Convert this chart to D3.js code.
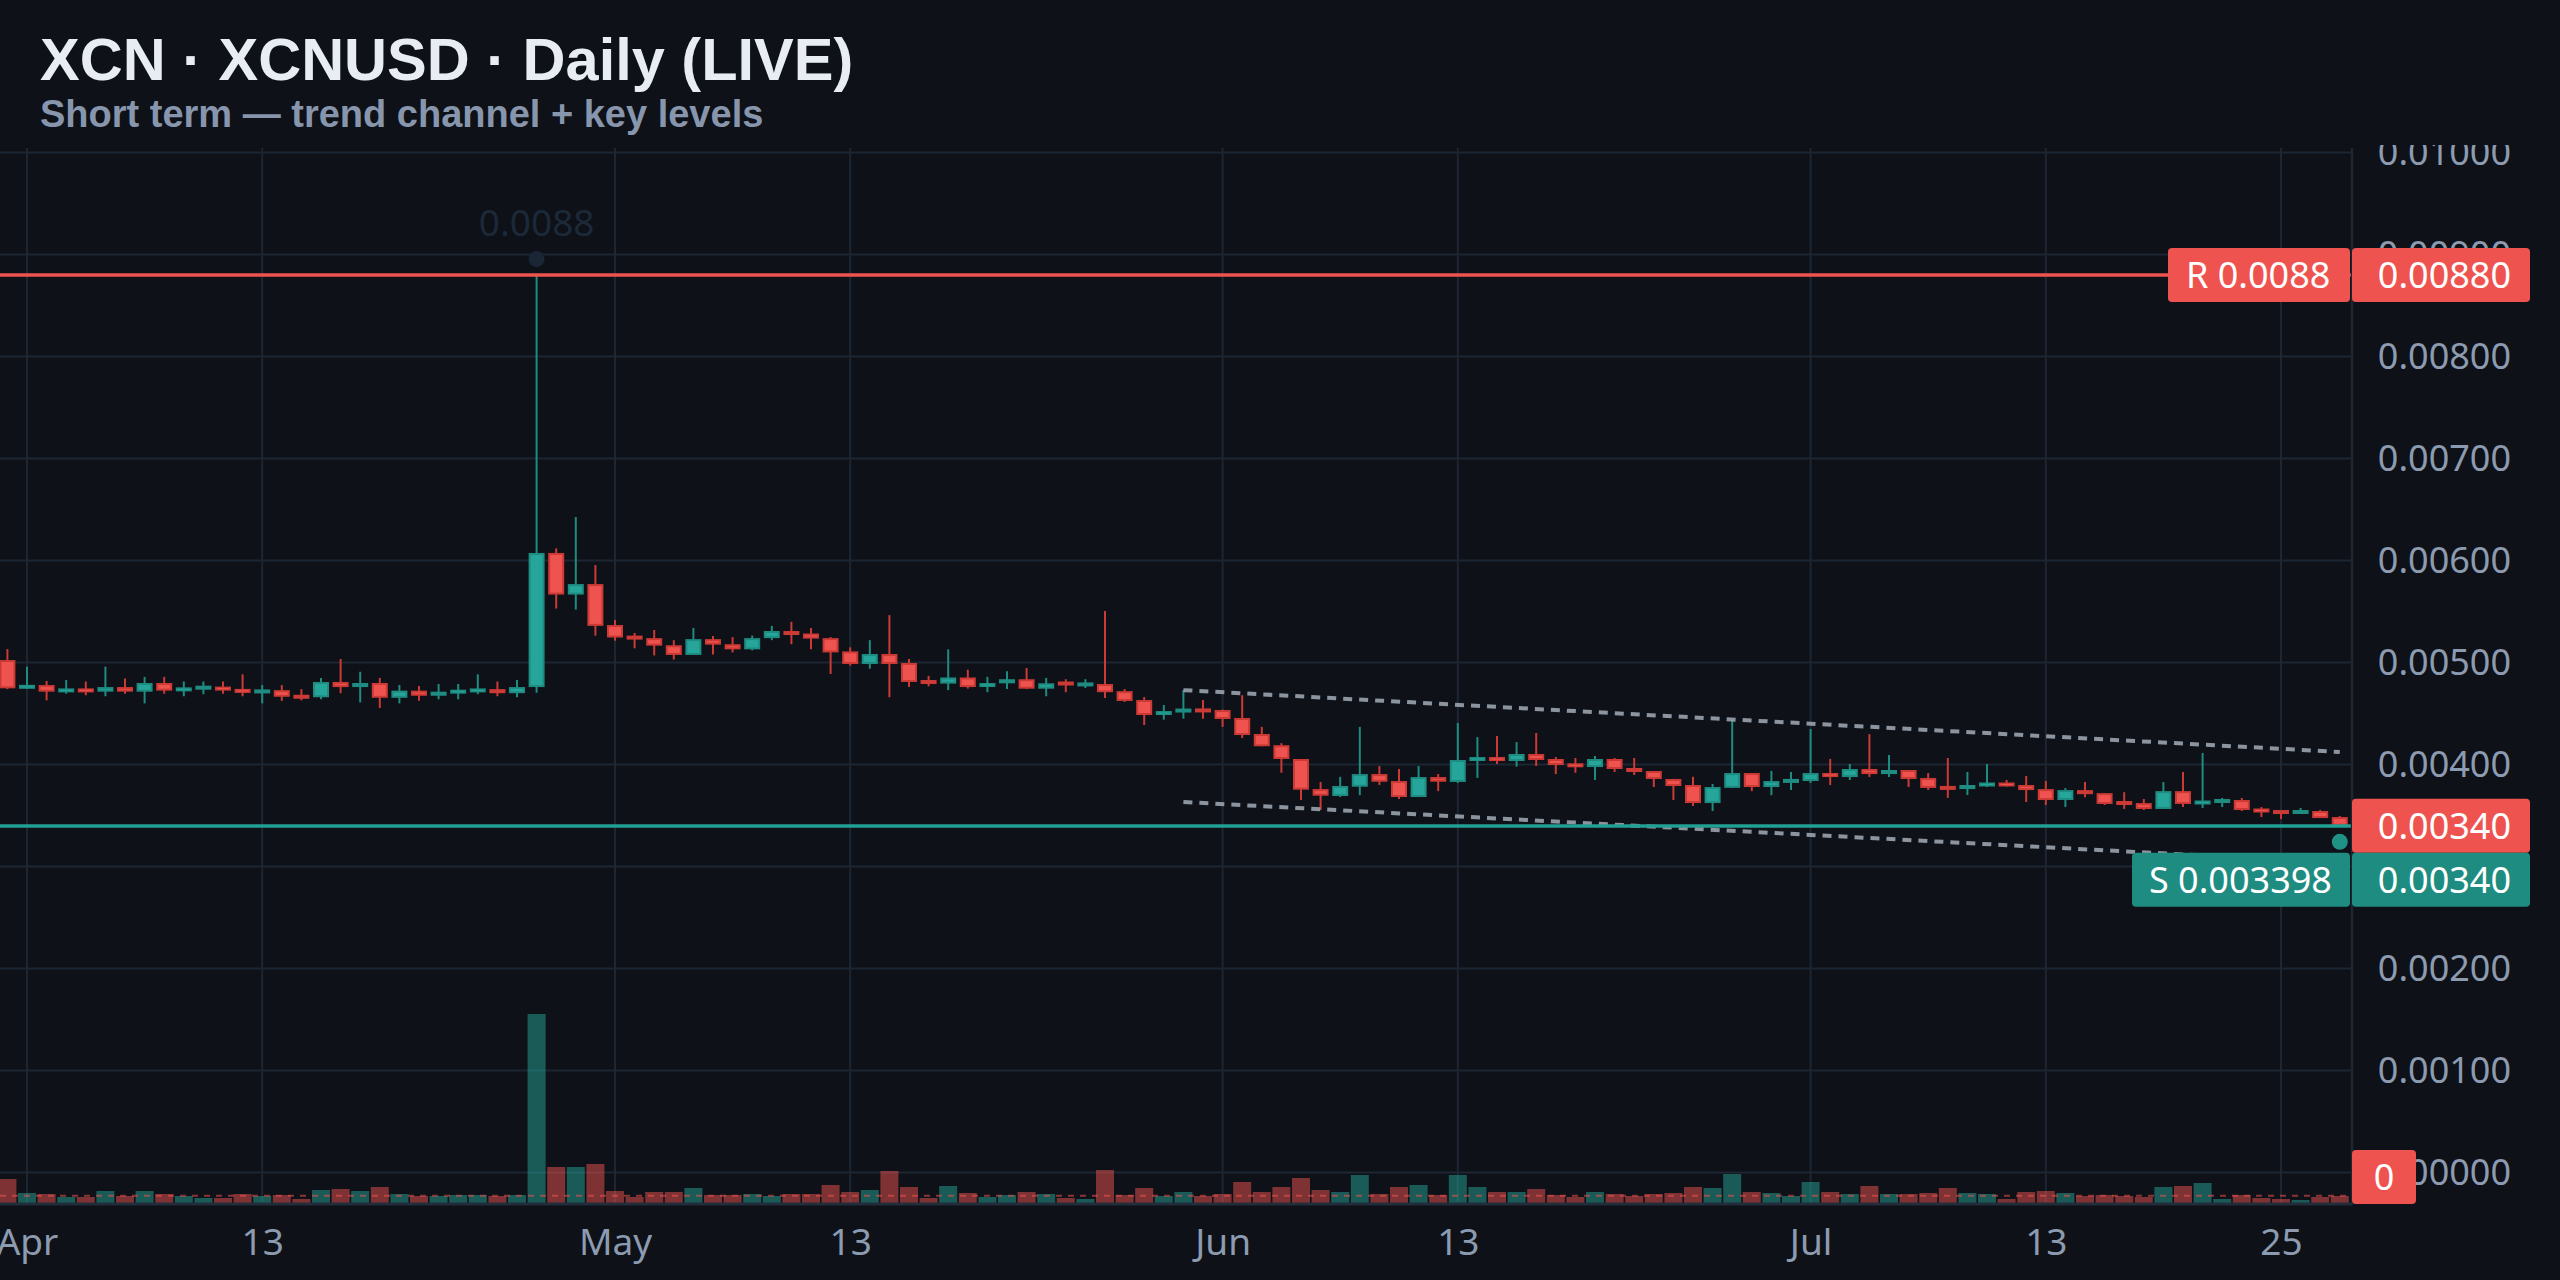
<!DOCTYPE html>
<html><head><meta charset="utf-8">
<script src="https://cdn.jsdelivr.net/npm/d3@7"></script>
<style>html,body{margin:0;padding:0;background:#0e1117;overflow:hidden}svg{display:block}</style>
</head><body><svg id="c" width="2560" height="1280"></svg>
<script>
// ---------------- DATA ----------------
const dates = ["2025-03-31",
"2025-04-01","2025-04-02","2025-04-03","2025-04-04","2025-04-05","2025-04-06","2025-04-07","2025-04-08","2025-04-09","2025-04-10",
"2025-04-11","2025-04-12","2025-04-13","2025-04-14","2025-04-15","2025-04-16","2025-04-17","2025-04-18","2025-04-19","2025-04-20",
"2025-04-21","2025-04-22","2025-04-23","2025-04-24","2025-04-25","2025-04-26","2025-04-27","2025-04-28","2025-04-29","2025-04-30",
"2025-05-01","2025-05-02","2025-05-03","2025-05-04","2025-05-05","2025-05-06","2025-05-07","2025-05-08","2025-05-09","2025-05-10",
"2025-05-11","2025-05-12","2025-05-13","2025-05-14","2025-05-15","2025-05-16","2025-05-17","2025-05-18","2025-05-19","2025-05-20",
"2025-05-21","2025-05-22","2025-05-23","2025-05-24","2025-05-25","2025-05-26","2025-05-27","2025-05-28","2025-05-29","2025-05-30","2025-05-31",
"2025-06-01","2025-06-02","2025-06-03","2025-06-04","2025-06-05","2025-06-06","2025-06-07","2025-06-08","2025-06-09","2025-06-10",
"2025-06-11","2025-06-12","2025-06-13","2025-06-14","2025-06-15","2025-06-16","2025-06-17","2025-06-18","2025-06-19","2025-06-20",
"2025-06-21","2025-06-22","2025-06-23","2025-06-24","2025-06-25","2025-06-26","2025-06-27","2025-06-28","2025-06-29","2025-06-30",
"2025-07-01","2025-07-02","2025-07-03","2025-07-04","2025-07-05","2025-07-06","2025-07-07","2025-07-08","2025-07-09","2025-07-10",
"2025-07-11","2025-07-12","2025-07-13","2025-07-14","2025-07-15","2025-07-16","2025-07-17","2025-07-18","2025-07-19","2025-07-20",
"2025-07-21","2025-07-22","2025-07-23","2025-07-24","2025-07-25","2025-07-26","2025-07-27","2025-07-28"];

const open = [0.005025,
0.004745,0.004780,0.004715,0.004740,0.004715,0.004760,0.004715,0.004800,0.004725,0.004750,
0.004760,0.004735,0.004710,0.004730,0.004675,0.004660,0.004810,0.004760,0.004800,0.004655,
0.004725,0.004675,0.004700,0.004715,0.004740,0.004700,0.004760,0.006075,0.005667,0.005770,
0.005368,0.005250,0.005240,0.005170,0.005075,0.005230,0.005180,0.005130,0.005240,0.005295,
0.005285,0.005240,0.005110,0.004986,0.005084,0.004996,0.004815,0.004794,0.004854,0.004766,
0.004797,0.004837,0.004744,0.004800,0.004782,0.004790,0.004720,0.004633,0.004486,0.004525,0.004540,
0.004535,0.004457,0.004300,0.004190,0.004055,0.003760,0.003692,0.003783,0.003907,0.003839,
0.003682,0.003878,0.003830,0.004035,0.004074,0.004035,0.004104,0.004055,0.004006,0.003976,
0.004055,0.003967,0.003937,0.003859,0.003800,0.003623,0.003772,0.003917,0.003780,0.003830,
0.003839,0.003917,0.003878,0.003957,0.003907,0.003947,0.003869,0.003783,0.003760,0.003790,
0.003820,0.003800,0.003760,0.003653,0.003750,0.003720,0.003633,0.003623,0.003565,0.003740,
0.003614,0.003633,0.003653,0.003565,0.003545,0.003525,0.003545,0.003486];

const high = [0.005133,
0.004960,0.004820,0.004830,0.004815,0.004960,0.004845,0.004860,0.004860,0.004815,0.004815,
0.004815,0.004885,0.004780,0.004780,0.004740,0.004850,0.005035,0.004910,0.004850,0.004780,
0.004770,0.004790,0.004790,0.004885,0.004815,0.004830,0.008800,0.006120,0.006427,0.005957,
0.005418,0.005290,0.005320,0.005220,0.005340,0.005260,0.005250,0.005265,0.005360,0.005400,
0.005340,0.005250,0.005150,0.005220,0.005466,0.005035,0.004870,0.005130,0.004930,0.004860,
0.004915,0.004947,0.004850,0.004837,0.004837,0.005506,0.004740,0.004662,0.004584,0.004730,0.004633,
0.004540,0.004680,0.004370,0.004210,0.004055,0.003830,0.003880,0.004370,0.003986,0.003957,
0.003986,0.003907,0.004408,0.004270,0.004280,0.004220,0.004310,0.004074,0.004065,0.004084,
0.004065,0.004065,0.003937,0.003860,0.003880,0.003810,0.004437,0.003917,0.003937,0.003927,
0.004349,0.004055,0.004006,0.004299,0.004094,0.003947,0.003917,0.004065,0.003927,0.004006,
0.003849,0.003888,0.003839,0.003770,0.003829,0.003720,0.003730,0.003663,0.003829,0.003927,
0.004114,0.003673,0.003673,0.003584,0.003545,0.003575,0.003555,0.003496];

const low = [0.004740,
0.004740,0.004630,0.004695,0.004680,0.004670,0.004695,0.004600,0.004695,0.004670,0.004690,
0.004695,0.004670,0.004600,0.004625,0.004630,0.004640,0.004700,0.004610,0.004555,0.004600,
0.004625,0.004640,0.004640,0.004690,0.004670,0.004660,0.004705,0.005530,0.005520,0.005264,
0.005215,0.005140,0.005070,0.005030,0.005075,0.005080,0.005100,0.005120,0.005220,0.005180,
0.005130,0.004888,0.004970,0.004940,0.004660,0.004760,0.004767,0.004730,0.004745,0.004710,
0.004740,0.004740,0.004670,0.004710,0.004750,0.004653,0.004614,0.004388,0.004440,0.004450,0.004450,
0.004370,0.004260,0.004180,0.003920,0.003653,0.003555,0.003682,0.003700,0.003800,0.003663,
0.003682,0.003740,0.003820,0.003870,0.004006,0.003980,0.003986,0.003907,0.003920,0.003849,
0.003927,0.003898,0.003780,0.003653,0.003594,0.003545,0.003770,0.003740,0.003700,0.003750,
0.003820,0.003800,0.003849,0.003878,0.003878,0.003780,0.003751,0.003673,0.003702,0.003780,
0.003785,0.003633,0.003604,0.003584,0.003680,0.003604,0.003565,0.003555,0.003565,0.003584,
0.003575,0.003584,0.003545,0.003486,0.003467,0.003516,0.003476,0.003400];

const close = [0.004748,
0.004780,0.004715,0.004740,0.004715,0.004760,0.004715,0.004800,0.004725,0.004750,0.004758,
0.004730,0.004710,0.004725,0.004665,0.004655,0.004810,0.004760,0.004800,0.004655,0.004725,
0.004675,0.004715,0.004730,0.004740,0.004700,0.004760,0.006075,0.005667,0.005770,0.005360,
0.005246,0.005240,0.005166,0.005075,0.005230,0.005176,0.005130,0.005240,0.005310,0.005285,
0.005235,0.005100,0.004986,0.005084,0.004986,0.004810,0.004805,0.004854,0.004760,0.004794,
0.004837,0.004744,0.004797,0.004790,0.004790,0.004710,0.004624,0.004486,0.004525,0.004535,0.004522,
0.004447,0.004290,0.004180,0.004055,0.003754,0.003695,0.003790,0.003907,0.003832,0.003682,
0.003878,0.003832,0.004045,0.004074,0.004035,0.004104,0.004045,0.003996,0.003980,0.004055,
0.003957,0.003927,0.003859,0.003790,0.003623,0.003780,0.003917,0.003780,0.003839,0.003850,
0.003917,0.003878,0.003957,0.003907,0.003947,0.003859,0.003771,0.003760,0.003800,0.003820,
0.003790,0.003750,0.003653,0.003750,0.003710,0.003614,0.003614,0.003565,0.003740,0.003614,
0.003643,0.003653,0.003555,0.003535,0.003525,0.003545,0.003476,0.003400];

// volume, millions (relative)
const volume = [24,
10,9,6,6,12,7,12,9,7,5,
5,9,7,8,4,13,14,12,16,9,
7,7,8,8,7,8,189,36,36,39,
12,6,11,11,15,8,8,9,7,9,
9,18,11,13,32,16,5,17,10,6,
8,11,9,5,4,33,8,15,7,11,7,
9,21,11,16,25,13,11,28,9,16,
18,8,28,16,11,11,14,8,6,11,
9,7,9,10,16,15,29,11,10,7,
21,11,9,17,9,9,10,15,10,9,
4,11,12,10,7,8,7,6,16,17,
20,4,8,5,4,3,6,7];
const volumeAvg = 7.3;

const priceTicks = [0,0.001,0.002,0.003,0.004,0.005,0.006,0.007,0.008,0.009,0.010];
const timeTicks = ["2025-04-01","2025-04-13","2025-05-01","2025-05-13","2025-06-01","2025-06-13","2025-07-01","2025-07-13","2025-07-25"];

const resistance = 0.0088;
const support = 0.003398;
const channelUpper = [{date:"2025-05-30", value:0.004730},{date:"2025-07-28", value:0.004124}];
const channelLower = [{date:"2025-05-30", value:0.003633},{date:"2025-07-28", value:0.003039}];
const spikeMark = {date:"2025-04-27", value:0.0088, label:"0.0088"};

const titleText = "XCN · XCNUSD · Daily (LIVE)";
const subtitleText = "Short term — trend channel + key levels";

// ---------------- STYLE / LAYOUT ----------------
const W = 2560, H = 1280;
const plotLeft = 0, plotRight = 2352, plotTop = 148, plotBottom = 1204;
const C = {
  bg:"#0e1117", grid:"#1d2633", axisText:"#8c9bb0", title:"#e8edf4", subtitle:"#8796ad",
  up:"#26a69a", upBorder:"#1f8c81", down:"#ef5350", downBorder:"#cc3a36",
  volUp:"rgba(38,166,154,0.5)", volDown:"rgba(239,83,80,0.5)",
  sLine:"#22a093", sBox:"#1e8c80", rLine:"#ef5350", channel:"#9aa3ae"
};
const FONT = "'Noto Sans', 'Open Sans', sans-serif";
const TFONT = "'Liberation Sans', Arial, sans-serif";

const parse = d3.utcParse("%Y-%m-%d");
const data = dates.map((d,i)=>({date:parse(d), o:open[i], h:high[i], l:low[i], c:close[i], v:volume[i]}));

const x = d3.scaleUtc().domain([parse("2025-03-31"), parse("2025-07-28")]).range([7.4, 2339.8]);
const y = d3.scaleLinear().domain([0, 0.01]).range([1172.6, 152.6]);
const vy = d3.scaleLinear().domain([0, 189]).range([1203, 1014]);

const svg = d3.select("#c");
svg.append("rect").attr("width",W).attr("height",H).attr("fill",C.bg);

// clip
const defs = svg.append("defs");
defs.append("clipPath").attr("id","plotclip").append("rect")
  .attr("x",plotLeft).attr("y",plotTop).attr("width",plotRight-plotLeft).attr("height",plotBottom-plotTop);
defs.append("clipPath").attr("id","axisclip").append("rect")
  .attr("x",plotRight).attr("y",plotTop-3).attr("width",W-plotRight).attr("height",plotBottom-plotTop+3);

// Title
svg.append("text").attr("x",40).attr("y",80).attr("fill",C.title)
  .attr("font-family",TFONT).attr("font-weight","bold").attr("font-size",59.5)
  .text(titleText);
svg.append("text").attr("x",40).attr("y",127).attr("fill",C.subtitle)
  .attr("font-family",TFONT).attr("font-weight","bold").attr("font-size",38)
  .text(subtitleText);

const plot = svg.append("g").attr("clip-path","url(#plotclip)");

// grid
plot.append("g").selectAll("line").data(priceTicks).join("line")
  .attr("x1",plotLeft).attr("x2",plotRight).attr("y1",d=>y(d)).attr("y2",d=>y(d))
  .attr("stroke",C.grid).attr("stroke-width",2);
plot.append("g").selectAll("line").data(timeTicks).join("line")
  .attr("x1",d=>x(parse(d))).attr("x2",d=>x(parse(d))).attr("y1",plotTop).attr("y2",plotBottom)
  .attr("stroke",C.grid).attr("stroke-width",2);

// volume
const barW = 18;
plot.append("g").selectAll("rect").data(data).join("rect")
  .attr("x",d=>x(d.date)-barW/2).attr("width",barW)
  .attr("y",d=>vy(d.v)).attr("height",d=>vy(0)-vy(d.v))
  .attr("fill",d=>d.c>=d.o?C.volUp:C.volDown);
plot.append("line").attr("x1",plotLeft).attr("x2",plotRight)
  .attr("y1",vy(volumeAvg)).attr("y2",vy(volumeAvg))
  .attr("stroke","rgba(239,83,80,0.55)").attr("stroke-width",2).attr("stroke-dasharray","6,6");

// candles
const bodyW = 16;
const cg = plot.append("g");
const candle = cg.selectAll("g").data(data).join("g");
candle.append("line")
  .attr("x1",d=>x(d.date)).attr("x2",d=>x(d.date))
  .attr("y1",d=>y(d.h)).attr("y2",d=>y(d.l))
  .attr("stroke",d=>d.c>=d.o?C.upBorder:C.downBorder).attr("stroke-width",2);
candle.each(function(d){
  const g = d3.select(this);
  const top = y(Math.max(d.o,d.c)), bot = y(Math.min(d.o,d.c));
  let h = bot-top;
  const up = d.c>=d.o;
  if (h < 4) {
    g.append("rect").attr("x",x(d.date)-bodyW/2).attr("width",bodyW)
      .attr("y",(top+bot)/2-2).attr("height",4).attr("fill",up?C.upBorder:C.downBorder);
    if (h>=2.5) g.append("rect").attr("x",x(d.date)-bodyW/2+2).attr("width",bodyW-4)
      .attr("y",(top+bot)/2-0.5).attr("height",1).attr("fill",up?C.up:C.down);
  } else {
    g.append("rect").attr("x",x(d.date)-bodyW/2+1).attr("width",bodyW-2)
      .attr("y",top+1).attr("height",h-2)
      .attr("fill",up?C.up:C.down).attr("stroke",up?C.upBorder:C.downBorder).attr("stroke-width",2);
  }
});

// channel
const chLine = d3.line().x(d=>x(parse(d.date))).y(d=>y(d.value));
[channelUpper, channelLower].forEach(ch=>{
  plot.append("path").attr("d",chLine(ch)).attr("fill","none")
    .attr("stroke",C.channel).attr("stroke-width",4).attr("stroke-dasharray","9,7").attr("opacity",0.9);
});

// resistance & support lines
plot.append("line").attr("x1",plotLeft).attr("x2",plotRight).attr("y1",y(resistance)).attr("y2",y(resistance))
  .attr("stroke",C.rLine).attr("stroke-width",3.5);
plot.append("line").attr("x1",plotLeft).attr("x2",plotRight).attr("y1",y(support)).attr("y2",y(support))
  .attr("stroke",C.sLine).attr("stroke-width",3.5);

// spike annotation
plot.append("circle").attr("cx",x(parse(spikeMark.date))).attr("cy",y(spikeMark.value)-16).attr("r",8).attr("fill","#1a2535");
plot.append("text").attr("x",x(parse(spikeMark.date))).attr("y",y(spikeMark.value)-39)
  .attr("text-anchor","middle").attr("font-family",FONT).attr("font-size",37).attr("fill","#1c2939")
  .text(spikeMark.label);

// last marker dot
const last = data[data.length-1];
plot.append("circle").attr("cx",x(last.date)).attr("cy",y(last.c)+16).attr("r",8).attr("fill","#1f9285");

// borders
svg.append("line").attr("x1",plotRight).attr("x2",plotRight).attr("y1",plotTop).attr("y2",plotBottom+1)
  .attr("stroke",C.grid).attr("stroke-width",2.5);
svg.append("line").attr("x1",plotLeft).attr("x2",plotRight).attr("y1",plotBottom).attr("y2",plotBottom)
  .attr("stroke","#222d3b").attr("stroke-width",3);

// y axis (outer group carries the clip in page coordinates)
const yAxis = d3.axisRight(y).tickValues(priceTicks).tickSize(0).tickFormat(d3.format(".5f"));
const yg = svg.append("g").attr("clip-path","url(#axisclip)")
  .append("g").attr("transform",`translate(${plotRight},0)`).call(yAxis);
yg.select(".domain").remove();
yg.selectAll("text").attr("x",159).attr("text-anchor","end").attr("fill",C.axisText)
  .attr("font-family",FONT).attr("font-size",36);

// x axis
const xAxis = d3.axisBottom(x).tickValues(timeTicks.map(parse)).tickSize(0).tickPadding(25)
  .tickFormat(d=> d.getUTCDate()===1 ? d3.utcFormat("%b")(d) : d3.utcFormat("%-d")(d));
const xg = svg.append("g").attr("transform",`translate(0,${plotBottom})`).call(xAxis);
xg.select(".domain").remove();
xg.selectAll("text").attr("fill",C.axisText).attr("font-family",FONT).attr("font-size",37);

// labels
const boxH = 54, axBoxW = 178;
function labelBox(x0, w, yc, fill, txt, anchor, tx){
  const g = svg.append("g");
  g.append("rect").attr("x",x0).attr("y",yc-boxH/2).attr("width",w).attr("height",boxH).attr("rx",4).attr("fill",fill);
  g.append("text").attr("x",tx).attr("y",yc).attr("dy","0.36em").attr("text-anchor",anchor)
    .attr("fill","#ffffff").attr("font-family",FONT).attr("font-size",36).text(txt);
}
const fmt5 = d3.format(".5f");
// resistance
labelBox(2168, 182, y(resistance), C.down, "R " + resistance, "start", 2186);
labelBox(plotRight, axBoxW, y(resistance), C.down, fmt5(resistance), "end", 2511);
// last price
labelBox(plotRight, axBoxW, y(last.c), C.down, fmt5(last.c), "end", 2511);
// support (shifted below last-price label to avoid overlap)
const sY = y(last.c) + boxH;
labelBox(2132, 218, sY, C.sBox, "S " + support, "start", 2149);
labelBox(plotRight, axBoxW, sY, C.sBox, fmt5(support), "end", 2511);
// volume last label
labelBox(plotRight, 64, vy(0)-boxH/2+1, C.down, "0", "middle", plotRight+32);
</script></body></html>
